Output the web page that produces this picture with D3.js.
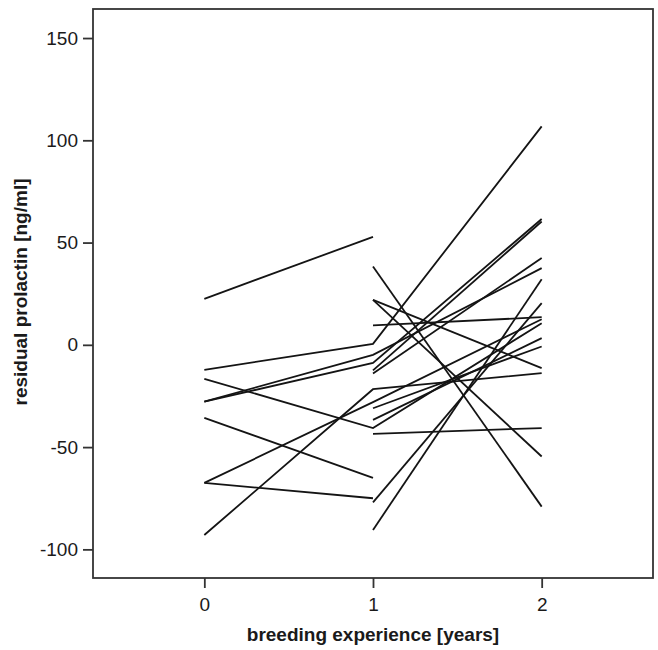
<!DOCTYPE html>
<html>
<head>
<meta charset="utf-8">
<script src="https://cdn.jsdelivr.net/npm/d3@7"></script>
<style>
  body { margin: 0; background: #fff; }
  svg text { font-family: "Liberation Sans", Arial, sans-serif; fill: #1a1a1a; }
</style>
</head>
<body>
<script>
// years of breeding experience
var years = [0, 1, 2];
var xTicks = [0, 1, 2];
var yTicks = [-100, -50, 0, 50, 100, 150];

// residual prolactin per individual, by year (null = not measured)
var bird01 = [22.5, 52.8, null];
var bird02 = [-12.2, 0.5, 106.8];
var bird03 = [-16.6, -40.7, 10.6];
var bird04 = [-27.8, -4.9, 37.5];
var bird05 = [-27.8, -8.8, 61.5];
var bird06 = [-35.7, -65, null];
var bird07 = [-67.5, -75, null];
var bird08 = [-67.5, -28, 12.5];
var bird09 = [-93, -21.7, -13.8];
var bird10 = [null, 38.3, -79.1];
var bird11 = [null, 22, -54.6];
var bird12 = [null, 22, -11.4];
var bird13 = [null, 9.5, 13.5];
var bird14 = [null, -43.5, -40.7];
var bird15 = [null, -77, 20.4];
var bird16 = [null, -90.5, 32.1];
var bird17 = [null, -12.5, 60.3];
var bird18 = [null, -14, 42.4];
var bird19 = [null, -31, -0.8];
var bird20 = [null, -36.7, 3.3];

var birds = [bird01, bird02, bird03, bird04, bird05, bird06, bird07, bird08, bird09, bird10,
  bird11, bird12, bird13, bird14, bird15, bird16, bird17, bird18, bird19, bird20];

function drawChart() {
  var width = 658, height = 650;
  var plotLeft = 93, plotRight = 653, plotTop = 9, plotBottom = 578;

  var svg = d3.select('body').append('svg')
    .attr('width', width)
    .attr('height', height);

  var x = d3.scaleLinear().domain([-0.66, 2.66]).range([plotLeft, plotRight]);
  var y = d3.scaleLinear().domain([-114, 164.2]).range([plotBottom, plotTop]);

  // one line per individual
  var line = d3.line()
    .defined(function(d) { return d != null; })
    .x(function(d, i) { return x(years[i]); })
    .y(function(d) { return y(d); });

  svg.append('g')
    .selectAll('path')
    .data(birds)
    .enter()
    .append('path')
    .attr('d', line)
    .attr('fill', 'none')
    .attr('stroke', '#141414')
    .attr('stroke-width', 1.8);

  // frame
  svg.append('rect')
    .attr('x', plotLeft)
    .attr('y', plotTop)
    .attr('width', plotRight - plotLeft)
    .attr('height', plotBottom - plotTop)
    .attr('fill', 'none')
    .attr('stroke', '#333')
    .attr('stroke-width', 1.8);

  // plain hyphen for negatives, like the original
  var fmt = function(d) { return String(d); };

  // axes
  var yAxis = d3.axisLeft(y).tickValues(yTicks).tickFormat(fmt).tickSize(10).tickPadding(5);
  var gy = svg.append('g').attr('transform', 'translate(' + plotLeft + ',0)').call(yAxis);
  gy.select('.domain').remove();
  gy.selectAll('line').attr('stroke', '#333').attr('stroke-width', 1.8);
  gy.selectAll('text').attr('font-size', 19);

  var xAxis = d3.axisBottom(x).tickValues(xTicks).tickFormat(fmt).tickSize(10).tickPadding(10);
  var gx = svg.append('g').attr('transform', 'translate(0,' + plotBottom + ')').call(xAxis);
  gx.select('.domain').remove();
  gx.selectAll('line').attr('stroke', '#333').attr('stroke-width', 1.8);
  gx.selectAll('text').attr('font-size', 19);

  // titles
  svg.append('text')
    .attr('x', x(1))
    .attr('y', 641)
    .attr('text-anchor', 'middle')
    .attr('font-size', 19)
    .attr('font-weight', 'bold')
    .text('breeding experience [years]');

  svg.append('text')
    .attr('transform', 'translate(27,292) rotate(-90)')
    .attr('text-anchor', 'middle')
    .attr('font-size', 19)
    .attr('font-weight', 'bold')
    .text('residual prolactin [ng/ml]');
}
drawChart();
</script>
</body>
</html>
